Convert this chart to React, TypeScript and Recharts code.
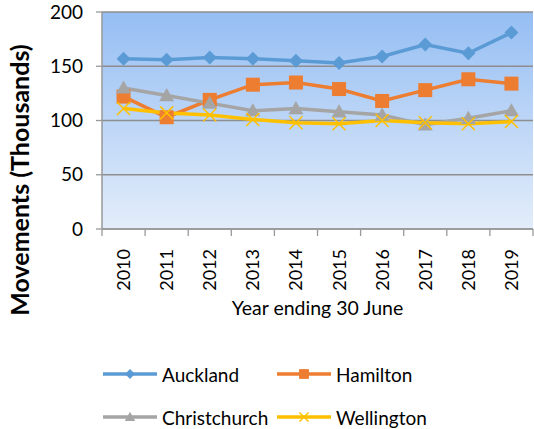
import React from "react";
import { LineChart, Line, XAxis, YAxis, CartesianGrid } from "recharts";

const years = ["2010", "2011", "2012", "2013", "2014", "2015", "2016", "2017", "2018", "2019"];
const auckland = [157, 156, 158, 157, 155, 153, 159, 170, 162, 181];
const hamilton = [122, 103, 119, 133, 135, 129, 118, 128, 138, 134];
const christchurch = [130, 123, 116, 109, 111, 108, 105, 96, 102, 109];
const wellington = [111, 107, 105, 101, 98, 97, 100, 98, 97, 99];
const yTicks = [0, 50, 100, 150, 200];

const data = years.map((y, i) => ({
  pos: i + 0.5,
  year: y,
  Auckland: auckland[i],
  Hamilton: hamilton[i],
  Christchurch: christchurch[i],
  Wellington: wellington[i],
}));

const font = "Lato, 'Open Sans', sans-serif";
const W = 534;
const H = 429;
const plotW = 431;
const halfBand = plotW / years.length / 2;

type Shape = "diamond" | "square" | "triangle" | "x";
const series: { key: string; color: string; shape: Shape }[] = [
  { key: "Auckland", color: "#5B9BD5", shape: "diamond" },
  { key: "Hamilton", color: "#ED7D31", shape: "square" },
  { key: "Christchurch", color: "#A5A5A5", shape: "triangle" },
  { key: "Wellington", color: "#FFC000", shape: "x" },
];

function marker(shape: Shape, cx: number, cy: number, r: number, color: string, key?: any) {
  if (shape === "diamond")
    return <polygon key={key} points={`${cx},${cy - r} ${cx + r},${cy} ${cx},${cy + r} ${cx - r},${cy}`} fill={color} />;
  if (shape === "square")
    return <rect key={key} x={cx - r} y={cy - r} width={r * 2} height={r * 2} fill={color} />;
  if (shape === "triangle")
    return <polygon key={key} points={`${cx},${cy - r} ${cx + r},${cy + r * 0.75} ${cx - r},${cy + r * 0.75}`} fill={color} />;
  return (
    <g key={key}>
      <line x1={cx - r} y1={cy - r} x2={cx + r} y2={cy + r} stroke={color} strokeWidth={1.5} />
      <line x1={cx - r} y1={cy + r} x2={cx + r} y2={cy - r} stroke={color} strokeWidth={1.5} />
    </g>
  );
}

const sizes: Record<Shape, number> = { diamond: 7, square: 7, triangle: 7.5, x: 6.5 };

const YearTick = (props: any) => {
  const { x, y, index } = props;
  if (index >= years.length) return null;
  const cx = x + halfBand;
  const ty = y + 11;
  return (
    <text x={cx} y={ty} dy="0.36em" transform={`rotate(-90, ${cx}, ${ty})`} textAnchor="end"
      fontSize={18} fontFamily={font} fill="#000">
      {years[index]}
    </text>
  );
};

export default function App() {
  return (
    <div style={{ position: "absolute", left: 0, top: 0, width: W, height: H, background: "#fff" }}>
      <LineChart width={W} height={H} data={data} margin={{ top: 12, right: 1, bottom: 110, left: 0 }}>
        <defs>
          <linearGradient id="bg" x1="0" y1="0" x2="0" y2="1">
            <stop offset="0%" stopColor="#95BEF3" />
            <stop offset="100%" stopColor="#E3EDFA" />
          </linearGradient>
        </defs>
        <CartesianGrid vertical={false} stroke="#8E8E8E" strokeWidth={1.3} fill="url(#bg)" fillOpacity={1} />
        <XAxis dataKey="pos" type="number" domain={[0, 10]} ticks={[0, 1, 2, 3, 4, 5, 6, 7, 8, 9, 10]}
          height={90} tick={<YearTick />} tickSize={7} tickLine={{ stroke: "#999", strokeWidth: 1.3 }}
          axisLine={{ stroke: "#999", strokeWidth: 1.5 }} interval={0}
          label={{ value: "Year ending 30 June", position: "insideBottom", offset: 4, fontSize: 19.5, fontFamily: font, fill: "#000" }} />
        <YAxis domain={[0, 200]} ticks={yTicks} width={102} tickSize={6} tickMargin={13}
          tick={{ fontSize: 19, fontFamily: font, fill: "#000" }}
          tickLine={{ stroke: "#999", strokeWidth: 1.3 }} axisLine={{ stroke: "#999", strokeWidth: 1.5 }} />
        {series.map((s) => (
          <Line key={s.key} dataKey={s.key} stroke={s.color} strokeWidth={3.5} isAnimationActive={false}
            dot={(p: any) => marker(s.shape, p.cx, p.cy, sizes[s.shape], s.color, p.index)} activeDot={false} />
        ))}
      </LineChart>
      <div style={{ position: "absolute", left: 0, top: 0, width: 40, height: 360 }}>
        <div style={{
          position: "absolute", left: 19, top: 180, transform: "translate(-50%, -50%) rotate(-90deg)",
          whiteSpace: "nowrap", fontFamily: font, fontWeight: 700, fontSize: 25, color: "#000",
        }}>Movements (Thousands)</div>
      </div>
      {series.map((s, i) => {
        const left = i % 2 === 0 ? 103 : 277;
        const top = i < 2 ? 374 : 417;
        return (
          <div key={s.key} style={{ position: "absolute", left, top: top - 12, height: 24, display: "flex", alignItems: "center" }}>
            <svg width={54} height={24}>
              <line x1={0} y1={12} x2={54} y2={12} stroke={s.color} strokeWidth={3.5} />
              {marker(s.shape, 27, 12, sizes[s.shape] * 0.7, s.color)}
            </svg>
            <span style={{ marginLeft: 5, fontFamily: font, fontSize: 19, color: "#000" }}>{s.key}</span>
          </div>
        );
      })}
    </div>
  );
}
